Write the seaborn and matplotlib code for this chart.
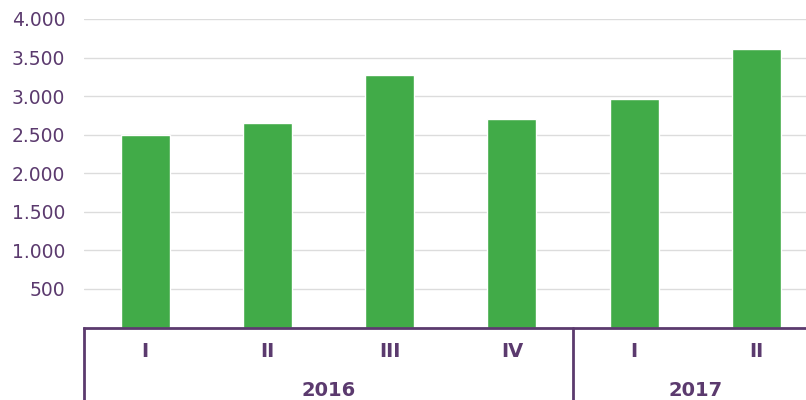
import matplotlib
matplotlib.use("Agg")
import matplotlib.pyplot as plt
import seaborn as sns
import pandas as pd
from matplotlib.ticker import FuncFormatter

quarters = ["I", "II", "III", "IV", "I", "II"]
years = ["2016", "2016", "2016", "2016", "2017", "2017"]
values = [2490, 2650, 3275, 2700, 2960, 3610]
yticks = [500, 1000, 1500, 2000, 2500, 3000, 3500, 4000]

sns.set_theme(style="white")
plt.rcParams['font.family'] = ['DejaVu Sans']

purple = "#5b3a6e"
green = "#41ab48"

df = pd.DataFrame({"pos": [f"{y}-{q}-{i}" for i, (y, q) in enumerate(zip(years, quarters))],
                   "value": values})

fig = plt.figure(figsize=(8.06, 4.0), dpi=100)
ax = fig.add_axes([84 / 806, (400 - 327.5) / 400, 733.5 / 806, (327.5 - 19) / 400])
sns.barplot(data=df, x="pos", y="value", color=green, width=0.4, saturation=1, ax=ax)

ax.set_xlim(-0.5, len(values) - 0.5)
ax.set_ylim(0, 4000)
ax.set_yticks(yticks)
ax.yaxis.set_major_formatter(FuncFormatter(lambda v, p: f"{int(v):,}".replace(",", ".")))
ax.tick_params(axis="y", length=0, labelsize=13.5, labelcolor=purple, pad=13.5)
ax.set_xticks([])
ax.set_xlabel("")
ax.set_ylabel("")
ax.grid(axis="y", color="#dcdcdc", linewidth=1.0)
ax.set_axisbelow(True)
for s in ["top", "right", "left"]:
    ax.spines[s].set_visible(False)
ax.spines["bottom"].set_color(purple)
ax.spines["bottom"].set_linewidth(2)

trans = ax.get_xaxis_transform()
for i, q in enumerate(quarters):
    ax.text(i, -0.079, q, transform=trans, ha="center", va="center",
            fontsize=14, fontweight="bold", color=purple)

# year groups
groups = []
for i, y in enumerate(years):
    if groups and groups[-1][0] == y:
        groups[-1][2] = i
    else:
        groups.append([y, i, i])
for y, a, b in groups:
    ax.text((a + b) / 2, -0.203, y, transform=trans, ha="center", va="center",
            fontsize=14, fontweight="bold", color=purple)
    ax.plot([a - 0.5, a - 0.5], [0, -0.3], transform=trans, color=purple,
            linewidth=2, clip_on=False)

fig.savefig("out.png", dpi=100)
